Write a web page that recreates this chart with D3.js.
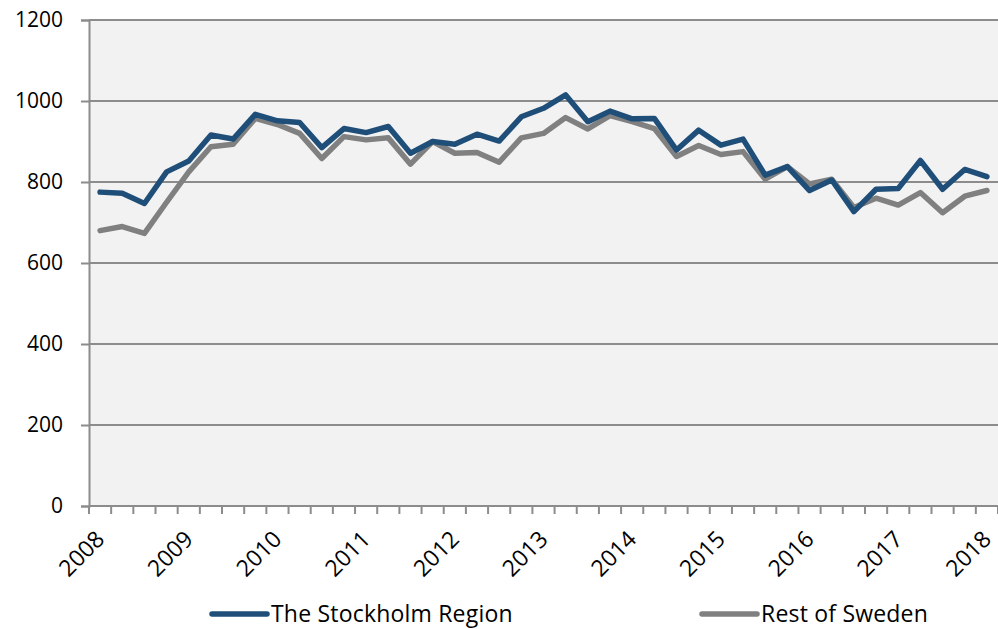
<!DOCTYPE html>
<html lang="en">
<head>
<meta charset="utf-8">
<title>Stockholm vs Rest of Sweden</title>
<script src="https://d3js.org/d3.v7.min.js"></script>
<style>
  body { margin: 0; background: #fff; }
  svg text { font-family: "Open Sans", "Noto Sans", sans-serif; fill: #000; }
</style>
</head>
<body>
<script>
// quarterly values, 2008 Q1 .. 2018 Q1
var quarters = [];
for (var yr = 2008; yr <= 2018; yr++) {
  for (var q = 1; q <= 4; q++) {
    if (yr === 2018 && q > 1) break;
    quarters.push(yr + "Q" + q);
  }
}
var stockholm = [775, 772, 747, 825, 852, 916, 906, 967, 951, 947,
                 885, 932, 922, 937, 871, 900, 893, 918, 901, 961,
                 982, 1015, 949, 975, 956, 957, 879, 928, 891, 906,
                 817, 838, 779, 805, 727, 782, 784, 853, 782, 831, 813];
var restOfSweden = [680, 690, 673, 750, 825, 887, 893, 957, 942, 920,
                    858, 912, 904, 909, 844, 900, 871, 873, 849, 909,
                    920, 959, 931, 964, 949, 932, 863, 890, 868, 875,
                    807, 838, 795, 807, 737, 760, 743, 774, 724, 765, 779];
var yTicks = [0, 200, 400, 600, 800, 1000, 1200];
var seriesNames = ["The Stockholm Region", "Rest of Sweden"];
var colors = ["#1F4E79", "#808080"];

var w = 998, h = 629;
var padL = 89, padR = 998, padT = 20, padB = 506;

var svg = d3.select("body").append("svg")
  .attr("width", w).attr("height", h);

var x = d3.scaleBand().domain(quarters).range([padL, padR]);
var y = d3.scaleLinear().domain([0, 1200]).range([padB, padT]);

// plot background
svg.append("rect")
  .attr("x", padL).attr("y", padT)
  .attr("width", padR - padL).attr("height", padB - padT)
  .attr("fill", "#F2F2F2");

// gridlines
svg.append("g").selectAll("line")
  .data(yTicks.filter(d => d > 0))
  .join("line")
  .attr("x1", padL).attr("x2", padR)
  .attr("y1", d => y(d)).attr("y2", d => y(d))
  .attr("stroke", "#8C8C8C").attr("stroke-width", 2);

// y axis
var yAxis = d3.axisLeft(y).tickValues(yTicks).tickSize(8).tickPadding(18).tickFormat(d3.format("d"));
var gy = svg.append("g").attr("transform", "translate(" + padL + ",0)").call(yAxis);
gy.select(".domain").attr("stroke", "#8C8C8C").attr("stroke-width", 2);
gy.selectAll(".tick line").attr("stroke", "#8C8C8C").attr("stroke-width", 2);
gy.selectAll(".tick text").style("font-size", "21px").attr("fill", "#000");

// x axis: tick marks between categories, labels every 4th quarter
var boundaries = quarters.map(d => x(d)).concat([padR]);
svg.append("g").selectAll("line")
  .data(boundaries)
  .join("line")
  .attr("x1", d => d).attr("x2", d => d)
  .attr("y1", padB).attr("y2", padB + 8)
  .attr("stroke", "#8C8C8C").attr("stroke-width", 2);
svg.append("line")
  .attr("x1", padL).attr("x2", padR)
  .attr("y1", padB).attr("y2", padB)
  .attr("stroke", "#8C8C8C").attr("stroke-width", 2);

svg.append("g").selectAll("text")
  .data(quarters.filter(d => d.endsWith("Q1")))
  .join("text")
  .attr("transform", d => "translate(" + (x(d) + x.bandwidth() / 2) + "," + (padB + 29) + ") rotate(-45)")
  .attr("text-anchor", "end")
  .attr("dy", "0.35em")
  .style("font-size", "23px")
  .text(d => d.slice(0, 4));

// lines
var line = d3.line()
  .x((d, i) => x(quarters[i]) + x.bandwidth() / 2)
  .y(d => y(d));

[restOfSweden, stockholm].forEach(function(s, k) {
  svg.append("path")
    .datum(s)
    .attr("d", line)
    .attr("fill", "none")
    .attr("stroke", k === 0 ? colors[1] : colors[0])
    .attr("stroke-width", 5.5)
    .attr("stroke-linejoin", "round")
    .attr("stroke-linecap", "round");
});

// legend
var legendX = [212, 702];
var lg = svg.append("g").selectAll("g")
  .data(seriesNames)
  .join("g")
  .attr("transform", (d, i) => "translate(" + legendX[i] + ",614)");
lg.append("line")
  .attr("x1", 0).attr("x2", 55)
  .attr("stroke", (d, i) => colors[i])
  .attr("stroke-width", 5.5)
  .attr("stroke-linecap", "round");
lg.append("text")
  .attr("x", 59).attr("dy", "0.35em")
  .style("font-size", "23px")
  .style("letter-spacing", "0.2px")
  .text(d => d);
</script>
</body>
</html>
